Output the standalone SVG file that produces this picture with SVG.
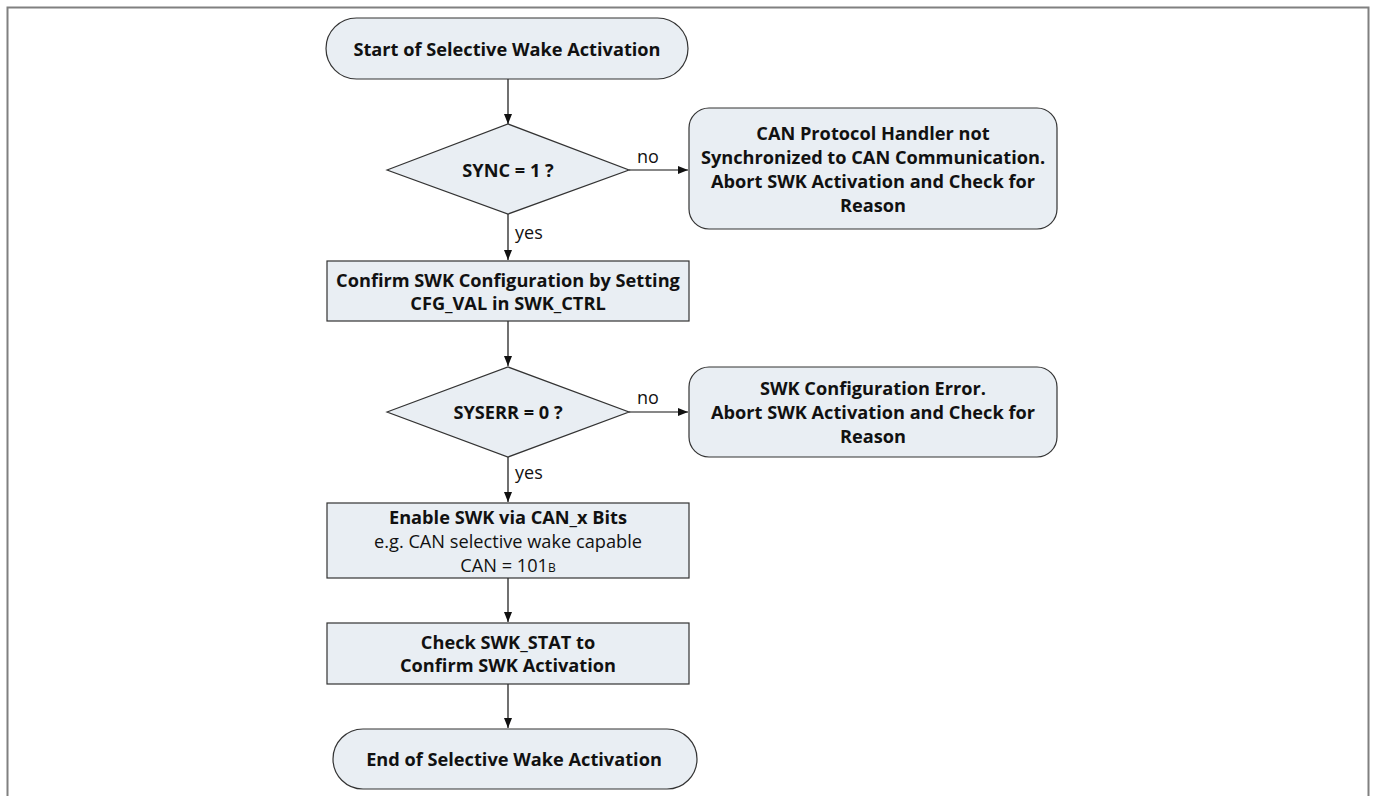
<svg xmlns="http://www.w3.org/2000/svg" width="1375" height="796" viewBox="0 0 1375 796">
<style>
.n{fill:#e9eef3;stroke:#333;stroke-width:1.2}
.t{font-family:"Open Sans","Noto Sans",sans-serif;font-size:18.2px;font-weight:bold;fill:#111;text-anchor:middle;dominant-baseline:central}
.r{font-family:"Open Sans","Noto Sans",sans-serif;font-size:18.2px;fill:#111;text-anchor:middle;dominant-baseline:central}
.l{font-family:"Open Sans","Noto Sans",sans-serif;font-size:18px;fill:#111;dominant-baseline:central}
.c{stroke:#111;stroke-width:1.2;fill:none;marker-end:url(#ah)}
</style>
<defs>
<marker id="ah" viewBox="0 0 10 8" refX="10" refY="4" markerWidth="10" markerHeight="8" markerUnits="userSpaceOnUse" orient="auto">
<path d="M0,0 L10,4 L0,8 Z" fill="#111"/>
</marker>
</defs>
<rect width="1375" height="796" fill="#fff"/>
<path d="M7.5,796 V7.5 H1368.5 V796" fill="none" stroke="#808080" stroke-width="2"/>
<g id="connectors">
<line class="c" x1="508" y1="79" x2="508" y2="124"/>
<line class="c" x1="629" y1="170" x2="688" y2="170"/>
<line class="c" x1="508" y1="214" x2="508" y2="260"/>
<line class="c" x1="508" y1="321" x2="508" y2="366"/>
<line class="c" x1="629" y1="412" x2="688" y2="412"/>
<line class="c" x1="508" y1="457" x2="508" y2="502"/>
<line class="c" x1="508" y1="578" x2="508" y2="622"/>
<line class="c" x1="508" y1="684" x2="508" y2="728"/>
<text class="l" x="637" y="156">no</text>
<text class="l" x="515" y="232">yes</text>
<text class="l" x="637" y="397">no</text>
<text class="l" x="515" y="472">yes</text>
</g>
<g id="start">
<rect class="n" x="326" y="18" width="362" height="61" rx="30.5"/>
<text class="t" x="507" y="48.5">Start of Selective Wake Activation</text>
</g>
<g id="sync">
<polygon class="n" points="387,170 508,124 629,170 508,214"/>
<text class="t" x="508" y="170">SYNC = 1 ?</text>
</g>
<g id="canerr">
<rect class="n" x="689" y="108" width="368" height="121" rx="20"/>
<text class="t" x="873" y="133">CAN Protocol Handler not</text>
<text class="t" x="873" y="157">Synchronized to CAN Communication.</text>
<text class="t" x="873" y="181">Abort SWK Activation and Check for</text>
<text class="t" x="873" y="205">Reason</text>
</g>
<g id="confirm">
<rect class="n" x="327" y="261" width="362" height="60"/>
<text class="t" x="508" y="279.5">Confirm SWK Configuration by Setting</text>
<text class="t" x="508" y="302.5">CFG_VAL in SWK_CTRL</text>
</g>
<g id="syserr">
<polygon class="n" points="387,412 508,367 629,412 508,457"/>
<text class="t" x="508" y="412">SYSERR = 0 ?</text>
</g>
<g id="cfgerr">
<rect class="n" x="689" y="367" width="368" height="90" rx="20"/>
<text class="t" x="873" y="388">SWK Configuration Error.</text>
<text class="t" x="873" y="412">Abort SWK Activation and Check for</text>
<text class="t" x="873" y="436">Reason</text>
</g>
<g id="enable">
<rect class="n" x="327" y="503" width="362" height="75"/>
<text class="t" x="508" y="517">Enable SWK via CAN_x Bits</text>
<text class="r" x="508" y="541">e.g. CAN selective wake capable</text>
<text class="r" x="508" y="571.5" style="dominant-baseline:alphabetic">CAN = 101<tspan font-size="12">B</tspan></text>
</g>
<g id="check">
<rect class="n" x="327" y="623" width="362" height="61"/>
<text class="t" x="508" y="641.5">Check SWK_STAT to</text>
<text class="t" x="508" y="664.5">Confirm SWK Activation</text>
</g>
<g id="end">
<rect class="n" x="333" y="729" width="364" height="60" rx="30"/>
<text class="t" x="514" y="759">End of Selective Wake Activation</text>
</g>
</svg>
